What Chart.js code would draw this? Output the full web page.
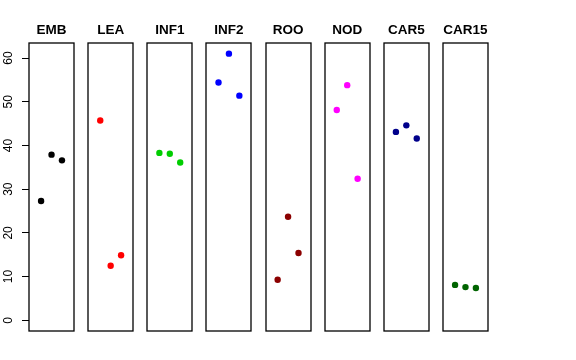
<!DOCTYPE html>
<html>
<head>
<meta charset="utf-8">
<script src="https://cdn.jsdelivr.net/npm/chart.js@4/dist/chart.umd.min.js"></script>
<style>
  html, body { margin: 0; padding: 0; background: #fff; }
  #wrap { width: 576px; height: 360px; position: relative; }
</style>
</head>
<body>
<div id="wrap"><canvas id="c" width="576" height="360"></canvas></div>
<script>
// ---- data ----
const categories = ["EMB", "LEA", "INF1", "INF2", "ROO", "NOD", "CAR5", "CAR15"];
const colors = ["#000000", "#FF0000", "#00CD00", "#0000FF", "#8B0000", "#FF00FF", "#00008B", "#006400"];
const replicate = [1, 2, 3];
const EMB   = [27.3, 37.9, 36.6];
const LEA   = [45.7, 12.5, 14.9];
const INF1  = [38.3, 38.1, 36.1];
const INF2  = [54.4, 61.0, 51.4];
const ROO   = [9.3, 23.7, 15.4];
const NOD   = [48.1, 53.8, 32.4];
const CAR5  = [43.1, 44.6, 41.6];
const CAR15 = [8.1, 7.6, 7.4];
const seriesValues = [EMB, LEA, INF1, INF2, ROO, NOD, CAR5, CAR15];
const yTicks = [0, 10, 20, 30, 40, 50, 60];

// ---- layout constants (panel geometry in x-units) ----
const STRIDE = 5.672;        // distance between panel origins
const XLO = -0.16, XHI = 4.16; // per-panel x range (0..4 with 4% extension)
const YLO = -2.44, YHI = 63.44;

const datasets = categories.map((name, i) => ({
  label: name,
  data: seriesValues[i].map((v, j) => ({ x: i * STRIDE + replicate[j], y: v })),
  backgroundColor: colors[i],
  borderColor: colors[i],
  pointRadius: 3.2,
  pointBorderWidth: 0,
  pointHoverRadius: 3.2
}));

const panelPlugin = {
  id: 'panels',
  afterDatasetsDraw(chart) {
    const ctx = chart.ctx;
    const xs = chart.scales.x, ys = chart.scales.y;
    const top = Math.round(ys.getPixelForValue(YHI));
    const bot = Math.round(ys.getPixelForValue(YLO));
    ctx.save();
    ctx.strokeStyle = '#000';
    ctx.lineWidth = 1.3;
    ctx.font = 'bold 13.5px "Liberation Sans", Arial, sans-serif';
    ctx.fillStyle = '#000';
    ctx.textAlign = 'center';
    ctx.textBaseline = 'alphabetic';
    categories.forEach((name, i) => {
      const l = Math.round(xs.getPixelForValue(i * STRIDE + XLO));
      const r = Math.round(xs.getPixelForValue(i * STRIDE + XHI));
      ctx.strokeRect(l, top, r - l, bot - top);
      const cx = xs.getPixelForValue(i * STRIDE + 2);
      ctx.fillText(name, cx, 34);
    });
    ctx.restore();
  }
};

new Chart(document.getElementById('c'), {
  type: 'scatter',
  data: { datasets },
  options: {
    responsive: false,
    animation: false,
    events: [],
    layout: { padding: { top: 43, bottom: 29, left: 0, right: 88 } },
    plugins: { legend: { display: false }, tooltip: { enabled: false }, title: { display: false } },
    scales: {
      x: {
        type: 'linear', display: false,
        min: XLO, max: (categories.length - 1) * STRIDE + XHI
      },
      y: {
        type: 'linear', min: YLO, max: YHI,
        afterBuildTicks(scale) { scale.ticks = yTicks.map(v => ({ value: v })); },
        afterFit(scale) { scale.width = 29; },
        border: { display: false },
        grid: { drawOnChartArea: false, drawTicks: true, tickLength: 7, color: '#000', lineWidth: 1 },
        ticks: {
          minRotation: 90, maxRotation: 90, crossAlign: 'center', padding: 7,
          color: '#000', font: { family: '"Liberation Sans", Arial, sans-serif', size: 12 },
          callback: v => String(v)
        }
      }
    }
  },
  plugins: [panelPlugin]
});
</script>
</body>
</html>
